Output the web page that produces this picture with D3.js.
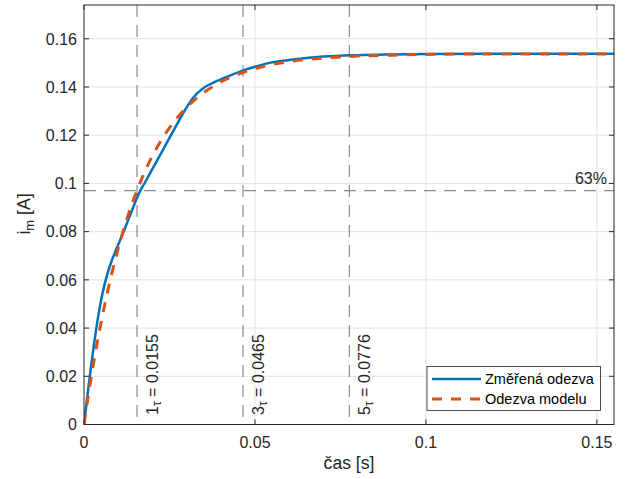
<!DOCTYPE html>
<html>
<head>
<meta charset="utf-8">
<script src="https://cdn.jsdelivr.net/npm/d3@7"></script>
<style>
  html, body { margin: 0; padding: 0; background: #fff; }
  svg { display: block; font-family: "Liberation Sans", Arial, Helvetica, sans-serif; }
</style>
</head>
<body>
<svg id="chart" width="625" height="479"></svg>
<script>
// ---- data ----
const measT = [0, 0.001, 0.002, 0.003, 0.004, 0.005, 0.006, 0.007, 0.008, 0.009, 0.010, 0.011, 0.012, 0.013, 0.014, 0.015, 0.016, 0.018, 0.020, 0.022, 0.024, 0.026, 0.028, 0.030, 0.031, 0.032, 0.033, 0.034, 0.035, 0.036, 0.038, 0.040, 0.043, 0.046, 0.050, 0.055, 0.060, 0.065, 0.070, 0.080, 0.090, 0.100, 0.120, 0.155];
const measI = [0, 0.012, 0.0235, 0.034, 0.0435, 0.0515, 0.0580, 0.0632, 0.0675, 0.0712, 0.0746, 0.0780, 0.0815, 0.0851, 0.0887, 0.0923, 0.0956, 0.1008, 0.1060, 0.1111, 0.1163, 0.1215, 0.1266, 0.1315, 0.1337, 0.1356, 0.1372, 0.1385, 0.1396, 0.1405, 0.1419, 0.1431, 0.1449, 0.1466, 0.1484, 0.1502, 0.1512, 0.1520, 0.1526, 0.1532, 0.1535, 0.1537, 0.1538, 0.1538];
const modelT = [0, 0.001, 0.002, 0.003, 0.004, 0.006, 0.008, 0.010, 0.012, 0.014, 0.0155, 0.018, 0.021, 0.024, 0.027, 0.030, 0.034, 0.038, 0.042, 0.046, 0.050, 0.055, 0.060, 0.065, 0.070, 0.080, 0.090, 0.100, 0.120, 0.155];
const modelI = [0, 0.0095, 0.0186, 0.0271, 0.0350, 0.0493, 0.0619, 0.0731, 0.0828, 0.0914, 0.0971, 0.1056, 0.1140, 0.1210, 0.1268, 0.1315, 0.1366, 0.1405, 0.1435, 0.1458, 0.1476, 0.1493, 0.1505, 0.1514, 0.1520, 0.1528, 0.1532, 0.1535, 0.1537, 0.1537];
const tauMult = [1, 3, 5];
const tauVals = [0.0155, 0.0465, 0.0776];
const level63 = 0.0970;
const xTicks = [0, 0.05, 0.1, 0.15];
const xTickLabels = ["0", "0.05", "0.1", "0.15"];
const yTicks = [0, 0.02, 0.04, 0.06, 0.08, 0.1, 0.12, 0.14, 0.16];
const yTickLabels = ["0", "0.02", "0.04", "0.06", "0.08", "0.1", "0.12", "0.14", "0.16"];
const seriesNames = ["Změřená odezva", "Odezva modelu"];
const xDomain = [0, 0.155];
const yDomain = [0, 0.174];

// ---- layout ----
const L = 84, R = 614, T = 5, B = 424.5;
const axisColor = "#262626";
const blue = "#0072BD", orange = "#D95319";

const svg = d3.select("#chart");
const x = d3.scaleLinear().domain(xDomain).range([L, R]);
const y = d3.scaleLinear().domain(yDomain).range([B, T]);

svg.append("defs").append("clipPath").attr("id", "clip")
  .append("rect").attr("x", L).attr("y", T).attr("width", R - L).attr("height", B - T);

// grid
const grid = svg.append("g");
grid.selectAll("line.gx").data(xTicks.slice(1)).enter().append("line")
  .attr("x1", d => x(d)).attr("x2", d => x(d)).attr("y1", T).attr("y2", B)
  .attr("stroke", "#e2e2e2").attr("stroke-width", 1);
grid.selectAll("line.gy").data(yTicks.slice(1)).enter().append("line")
  .attr("x1", L).attr("x2", R).attr("y1", d => y(d)).attr("y2", d => y(d))
  .attr("stroke", "#e2e2e2").attr("stroke-width", 1);

// reference lines
const ref = svg.append("g").attr("clip-path", "url(#clip)");
ref.selectAll("line.tau").data(tauVals).enter().append("line")
  .attr("x1", d => x(d)).attr("x2", d => x(d)).attr("y1", T).attr("y2", B)
  .attr("stroke", "#8a8a8a").attr("stroke-width", 1.2).attr("stroke-dasharray", "12,8");
ref.append("line")
  .attr("x1", L).attr("x2", R).attr("y1", y(level63)).attr("y2", y(level63))
  .attr("stroke", "#8a8a8a").attr("stroke-width", 1.2).attr("stroke-dasharray", "12,8");

// tau labels
tauVals.forEach((v, i) => {
  const t = svg.append("text")
    .attr("transform", `translate(${x(v) + 21},415) rotate(-90)`)
    .attr("font-size", 16).attr("fill", axisColor);
  t.append("tspan").text(String(tauMult[i]));
  t.append("tspan").attr("font-size", 12).attr("dy", 3).text("τ");
  t.append("tspan").attr("dy", -3).text(" = " + v.toFixed(4));
});

svg.append("text").attr("x", 607).attr("y", y(level63) - 7)
  .attr("text-anchor", "end").attr("font-size", 16).attr("fill", axisColor).text("63%");

// series
const lineGen = d3.line().x(d => x(d[0])).y(d => y(d[1])).curve(d3.curveMonotoneX);
const measData = measT.map((t, i) => [t, measI[i]]);
const modelData = modelT.map((t, i) => [t, modelI[i]]);
const plot = svg.append("g").attr("clip-path", "url(#clip)");
plot.append("path").datum(measData).attr("d", lineGen)
  .attr("fill", "none").attr("stroke", blue).attr("stroke-width", 2.5).attr("stroke-linejoin", "round");
plot.append("path").datum(modelData).attr("d", lineGen)
  .attr("fill", "none").attr("stroke", orange).attr("stroke-width", 3).attr("stroke-dasharray", "10,9");

// axes box
svg.append("rect").attr("x", L).attr("y", T).attr("width", R - L).attr("height", B - T)
  .attr("fill", "none").attr("stroke", axisColor).attr("stroke-width", 1);

// ticks (inward, all sides)
const tk = svg.append("g").attr("stroke", axisColor).attr("stroke-width", 1);
xTicks.forEach(d => {
  tk.append("line").attr("x1", x(d)).attr("x2", x(d)).attr("y1", B).attr("y2", B - 5);
  tk.append("line").attr("x1", x(d)).attr("x2", x(d)).attr("y1", T).attr("y2", T + 5);
});
yTicks.forEach(d => {
  tk.append("line").attr("x1", L).attr("x2", L + 5).attr("y1", y(d)).attr("y2", y(d));
  tk.append("line").attr("x1", R).attr("x2", R - 5).attr("y1", y(d)).attr("y2", y(d));
});

// tick labels
svg.selectAll("text.xt").data(xTicks).enter().append("text")
  .attr("x", d => x(d)).attr("y", 448).attr("text-anchor", "middle")
  .attr("font-size", 16).attr("fill", axisColor).text((d, i) => xTickLabels[i]);
svg.selectAll("text.yt").data(yTicks).enter().append("text")
  .attr("x", 77).attr("y", d => y(d) + 5.8).attr("text-anchor", "end")
  .attr("font-size", 16).attr("fill", axisColor).text((d, i) => yTickLabels[i]);

// axis labels
svg.append("text").attr("x", (L + R) / 2).attr("y", 469).attr("text-anchor", "middle")
  .attr("font-size", 17.6).attr("fill", axisColor).text("čas [s]");
const yl = svg.append("text").attr("transform", "translate(30,214) rotate(-90)")
  .attr("text-anchor", "middle").attr("font-size", 17.6).attr("fill", axisColor);
yl.append("tspan").text("i");
yl.append("tspan").attr("font-size", 13).attr("dy", 4).text("m");
yl.append("tspan").attr("dy", -4).text(" [A]");

// legend
const lg = svg.append("g");
lg.append("rect").attr("x", 427).attr("y", 366.5).attr("width", 173.5).attr("height", 44)
  .attr("fill", "#fff").attr("stroke", axisColor).attr("stroke-width", 0.8);
const rows = [{c: blue, dash: null, w: 2.5, yy: 379}, {c: orange, dash: "10,9", w: 3, yy: 399}];
rows.forEach((r, i) => {
  lg.append("line").attr("x1", 432).attr("x2", 481).attr("y1", r.yy).attr("y2", r.yy)
    .attr("stroke", r.c).attr("stroke-width", r.w).attr("stroke-dasharray", r.dash);
  lg.append("text").attr("x", 485).attr("y", r.yy + 5).attr("font-size", 14.5)
    .attr("fill", "#000").text(seriesNames[i]);
});
</script>
</body>
</html>
